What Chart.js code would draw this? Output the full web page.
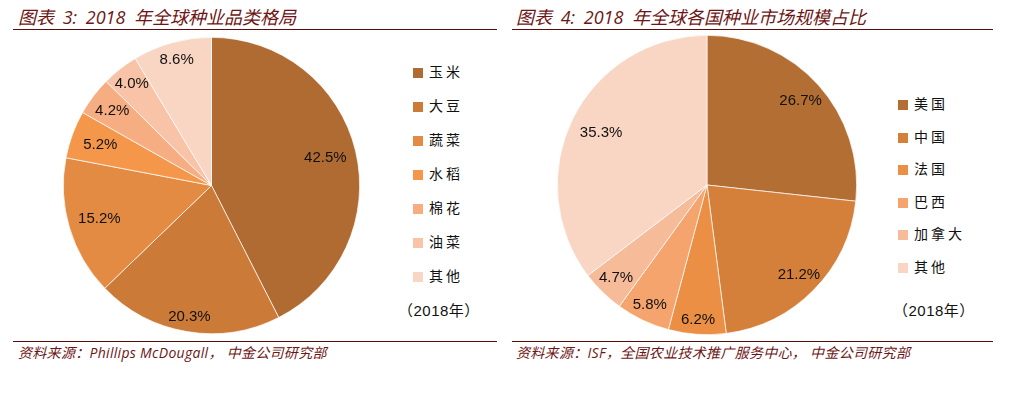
<!DOCTYPE html>
<html>
<head>
<meta charset="utf-8">
<script src="https://cdn.jsdelivr.net/npm/chart.js@4.4.1/dist/chart.umd.min.js"></script>
<style>
  body { margin: 0; width: 1031px; height: 393px; background: #fff; position: relative; overflow: hidden; }
  .title { position: absolute; top: 3px; font: italic 18px "Open Sans", "Noto Sans CJK SC", sans-serif; color: #6e1616; white-space: nowrap; word-spacing: 4px; }
  .source { position: absolute; top: 342px; font: italic 14px "Open Sans", "Noto Sans CJK SC", sans-serif; color: #6e1616; white-space: nowrap; letter-spacing: 0.3px; }
  .rule { position: absolute; height: 1px; background: #5c0b0b; }
  canvas { position: absolute; }
  .legend { position: absolute; font: 14px "Noto Sans CJK SC", sans-serif; color: #111; }
  .legend .item { position: absolute; white-space: nowrap; letter-spacing: 3px; line-height: 16px; }
  .legend .box { display: inline-block; width: 10px; height: 10px; margin-right: 6px; vertical-align: -1px; }
  .year { position: absolute; font: 15px "Liberation Sans", "Noto Sans CJK SC", sans-serif; color: #111; white-space: nowrap; letter-spacing: 0.5px; }
</style>
</head>
<body>
<div class="title" style="left:18px">图表 3: 2018 年全球种业品类格局</div>
<div class="title" style="left:516px">图表 4: 2018 年全球各国种业市场规模占比</div>
<div class="rule" style="left:13px; width:484px; top:29px"></div>
<div class="rule" style="left:512px; width:481px; top:29px"></div>
<div class="rule" style="left:13px; width:484px; top:341px"></div>
<div class="rule" style="left:512px; width:481px; top:341px"></div>
<div class="source" style="left:18px">资料来源：Phillips McDougall， 中金公司研究部</div>
<div class="source" style="left:516px">资料来源：ISF，全国农业技术推广服务中心， 中金公司研究部</div>

<canvas id="pieCrops" width="297" height="297" style="left:63px; top:37px"></canvas>
<canvas id="pieCountry" width="300" height="300" style="left:557px; top:35px"></canvas>

<div class="legend" id="legendCrops" style="left:413px; top:63px"></div>
<div class="legend" id="legendCountry" style="left:898px; top:95px"></div>
<div class="year" style="left:398px; top:299px">（2018年）</div>
<div class="year" style="left:893px; top:299px">（2018年）</div>

<script>
// 图表3：品类
const cropLabels = ["玉米", "大豆", "蔬菜", "水稻", "棉花", "油菜", "其他"];
const cropValues = [42.5, 20.3, 15.2, 5.2, 4.2, 4.0, 8.6];
const cropColors = ["#b06b33", "#cc7a38", "#e38b42", "#f5974a", "#f6ad82", "#f8c3a6", "#f9d5c3"];

// 图表4：各国
const countryLabels = ["美国", "中国", "法国", "巴西", "加拿大", "其他"];
const countryValues = [26.7, 21.2, 6.2, 5.8, 4.7, 35.3];
const countryColors = ["#b36e34", "#d47f3a", "#ea8f43", "#f4a46c", "#f6bb99", "#f9d5c3"];

// label distance from centre (fraction of radius), per slice
const cropLabelPos = [0.79, 0.9, 0.79, 0.8, 0.84, 0.87, 0.88];
const countryLabelPos = [0.84, 0.86, 0.9, 0.89, 0.87, 0.79];

const pctLabels = {
  id: "pctLabels",
  afterDatasetsDraw(chart, args, opts) {
    const ctx = chart.ctx;
    const meta = chart.getDatasetMeta(0);
    const values = chart.data.datasets[0].data;
    ctx.save();
    ctx.font = '15px "Liberation Sans", Arial, sans-serif';
    ctx.fillStyle = "#111";
    ctx.textAlign = "center";
    ctx.textBaseline = "middle";
    meta.data.forEach((arc, i) => {
      const a = (arc.startAngle + arc.endAngle) / 2;
      const r = arc.outerRadius * opts.pos[i];
      ctx.fillText(values[i].toFixed(1) + "%", arc.x + Math.cos(a) * r, arc.y + Math.sin(a) * r);
    });
    ctx.restore();
  }
};

function makePie(id, labels, values, colors, pos) {
  new Chart(document.getElementById(id), {
    type: "pie",
    data: {
      labels: labels,
      datasets: [{ data: values, backgroundColor: colors, borderColor: "#fff", borderWidth: 0.7 }]
    },
    options: {
      responsive: false,
      animation: false,
      layout: { padding: 0 },
      plugins: {
        legend: { display: false },
        tooltip: { enabled: false },
        pctLabels: { pos: pos }
      }
    },
    plugins: [pctLabels]
  });
}

function makeLegend(id, labels, colors, step) {
  const box = document.getElementById(id);
  labels.forEach((l, i) => {
    const d = document.createElement("div");
    d.className = "item";
    d.style.top = (i * step) + "px";
    d.innerHTML = '<span class="box" style="background:' + colors[i] + '"></span>' + l;
    box.appendChild(d);
  });
}

makePie("pieCrops", cropLabels, cropValues, cropColors, cropLabelPos);
makePie("pieCountry", countryLabels, countryValues, countryColors, countryLabelPos);
makeLegend("legendCrops", cropLabels, cropColors, 34);
makeLegend("legendCountry", countryLabels, countryColors, 32.5);
</script>
</body>
</html>
